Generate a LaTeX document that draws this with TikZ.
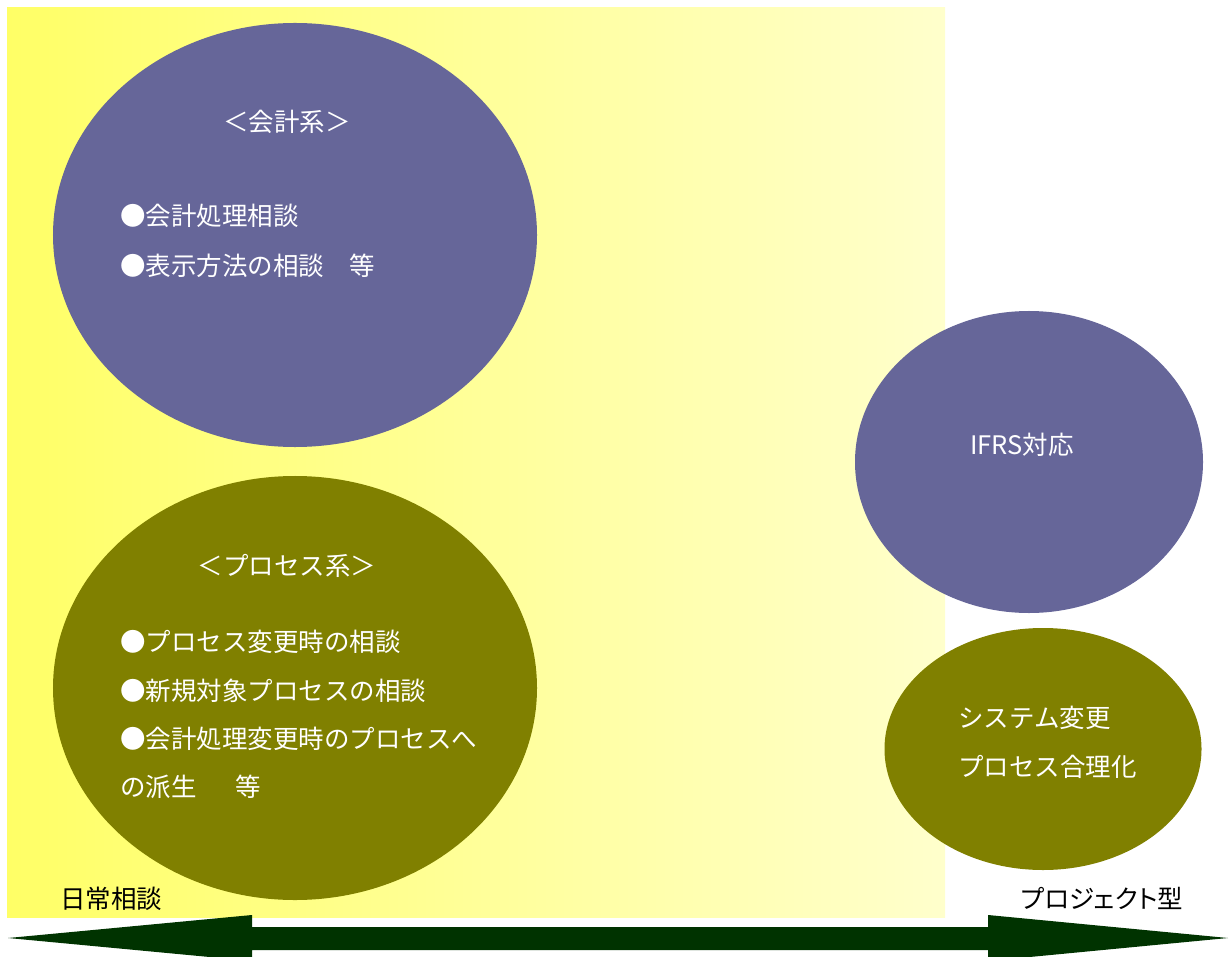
\documentclass[tikz,border=0pt]{standalone}
\usepackage{fontspec}
\setmainfont{Noto Sans CJK JP}
\usepackage{tikz}
\usetikzlibrary{shapes,positioning}
\definecolor{bgleft}{HTML}{FFFF66}
\definecolor{bgright}{HTML}{FFFFCC}
\definecolor{bubblepurple}{HTML}{666699}
\definecolor{bubbleolive}{HTML}{808000}
\definecolor{axisgreen}{HTML}{003300}
\tikzset{bubble/.style={ellipse,inner sep=0pt,outer sep=0pt,draw=none},
  purplebubble/.style={bubble,fill=bubblepurple},
  olivebubble/.style={bubble,fill=bubbleolive},
  bubbletext/.style={text=white,inner sep=0pt,font=\fontsize{14.5}{17}\selectfont},
  axistext/.style={text=black,inner sep=0pt,font=\fontsize{14.5}{17}\selectfont}}

\begin{document}
\begin{tikzpicture}[x=0.2mm,y=-0.2mm]

  \useasboundingbox (0,0) rectangle (1230,957);

  \shade [left color=bgleft,right color=bgright] (7,8) rectangle (945,917);

  \node [purplebubble,minimum width=96.8mm,minimum height=84.8mm] (accounting) at (295,235) {};
  \node [olivebubble,minimum width=96.8mm,minimum height=84.8mm] (process) at (295,688) {};
  \node [purplebubble,minimum width=69.6mm,minimum height=60.4mm] (ifrs) at (1029,462) {};
  \node [olivebubble,minimum width=63.4mm,minimum height=48.4mm] (project) at (1043,749) {};

  % accounting
  \node [bubbletext,anchor=base] (acctitle) at (287,132) {＜会計系＞};
  \node [bubbletext,anchor=base west] (accone) at (120,226) {●会計処理相談};
  \node [bubbletext,anchor=base west] (acctwo) at (120,276) {●表示方法の相談　等};

  % process
  \node [bubbletext,anchor=base] (proctitle) at (287,575) {＜プロセス系＞};
  \node [bubbletext,anchor=base west] (procone) at (120,651) {●プロセス変更時の相談};
  \node [bubbletext,anchor=base west] (proctwo) at (120,700) {●新規対象プロセスの相談};
  \node [bubbletext,anchor=base west] (procthree) at (120,748) {●会計処理変更時のプロセスへ};
  \node [bubbletext,anchor=base west] (procfour) at (120,796) {の派生\hspace{1.5em}等};

  \node [bubbletext,anchor=base] (ifrstext) at (1022,454) {IFRS対応};
  \node [bubbletext,anchor=base west] (projone) at (958,727) {システム変更};
  \node [bubbletext,anchor=base west] (projtwo) at (958,776) {プロセス合理化};

  \node [axistext,anchor=base] (daily) at (111,908) {日常相談};
  \node [axistext,anchor=base] (projtype) at (1102,908) {\addfontfeatures{RawFeature=+palt}プロジェクト型};

  \fill [axisgreen] (8,938) -- (252,915) -- (252,927) -- (988,927) -- (988,915)
    -- (1228,938) -- (988,961) -- (988,950) -- (252,950) -- (252,961) -- cycle;

\end{tikzpicture}
\end{document}
